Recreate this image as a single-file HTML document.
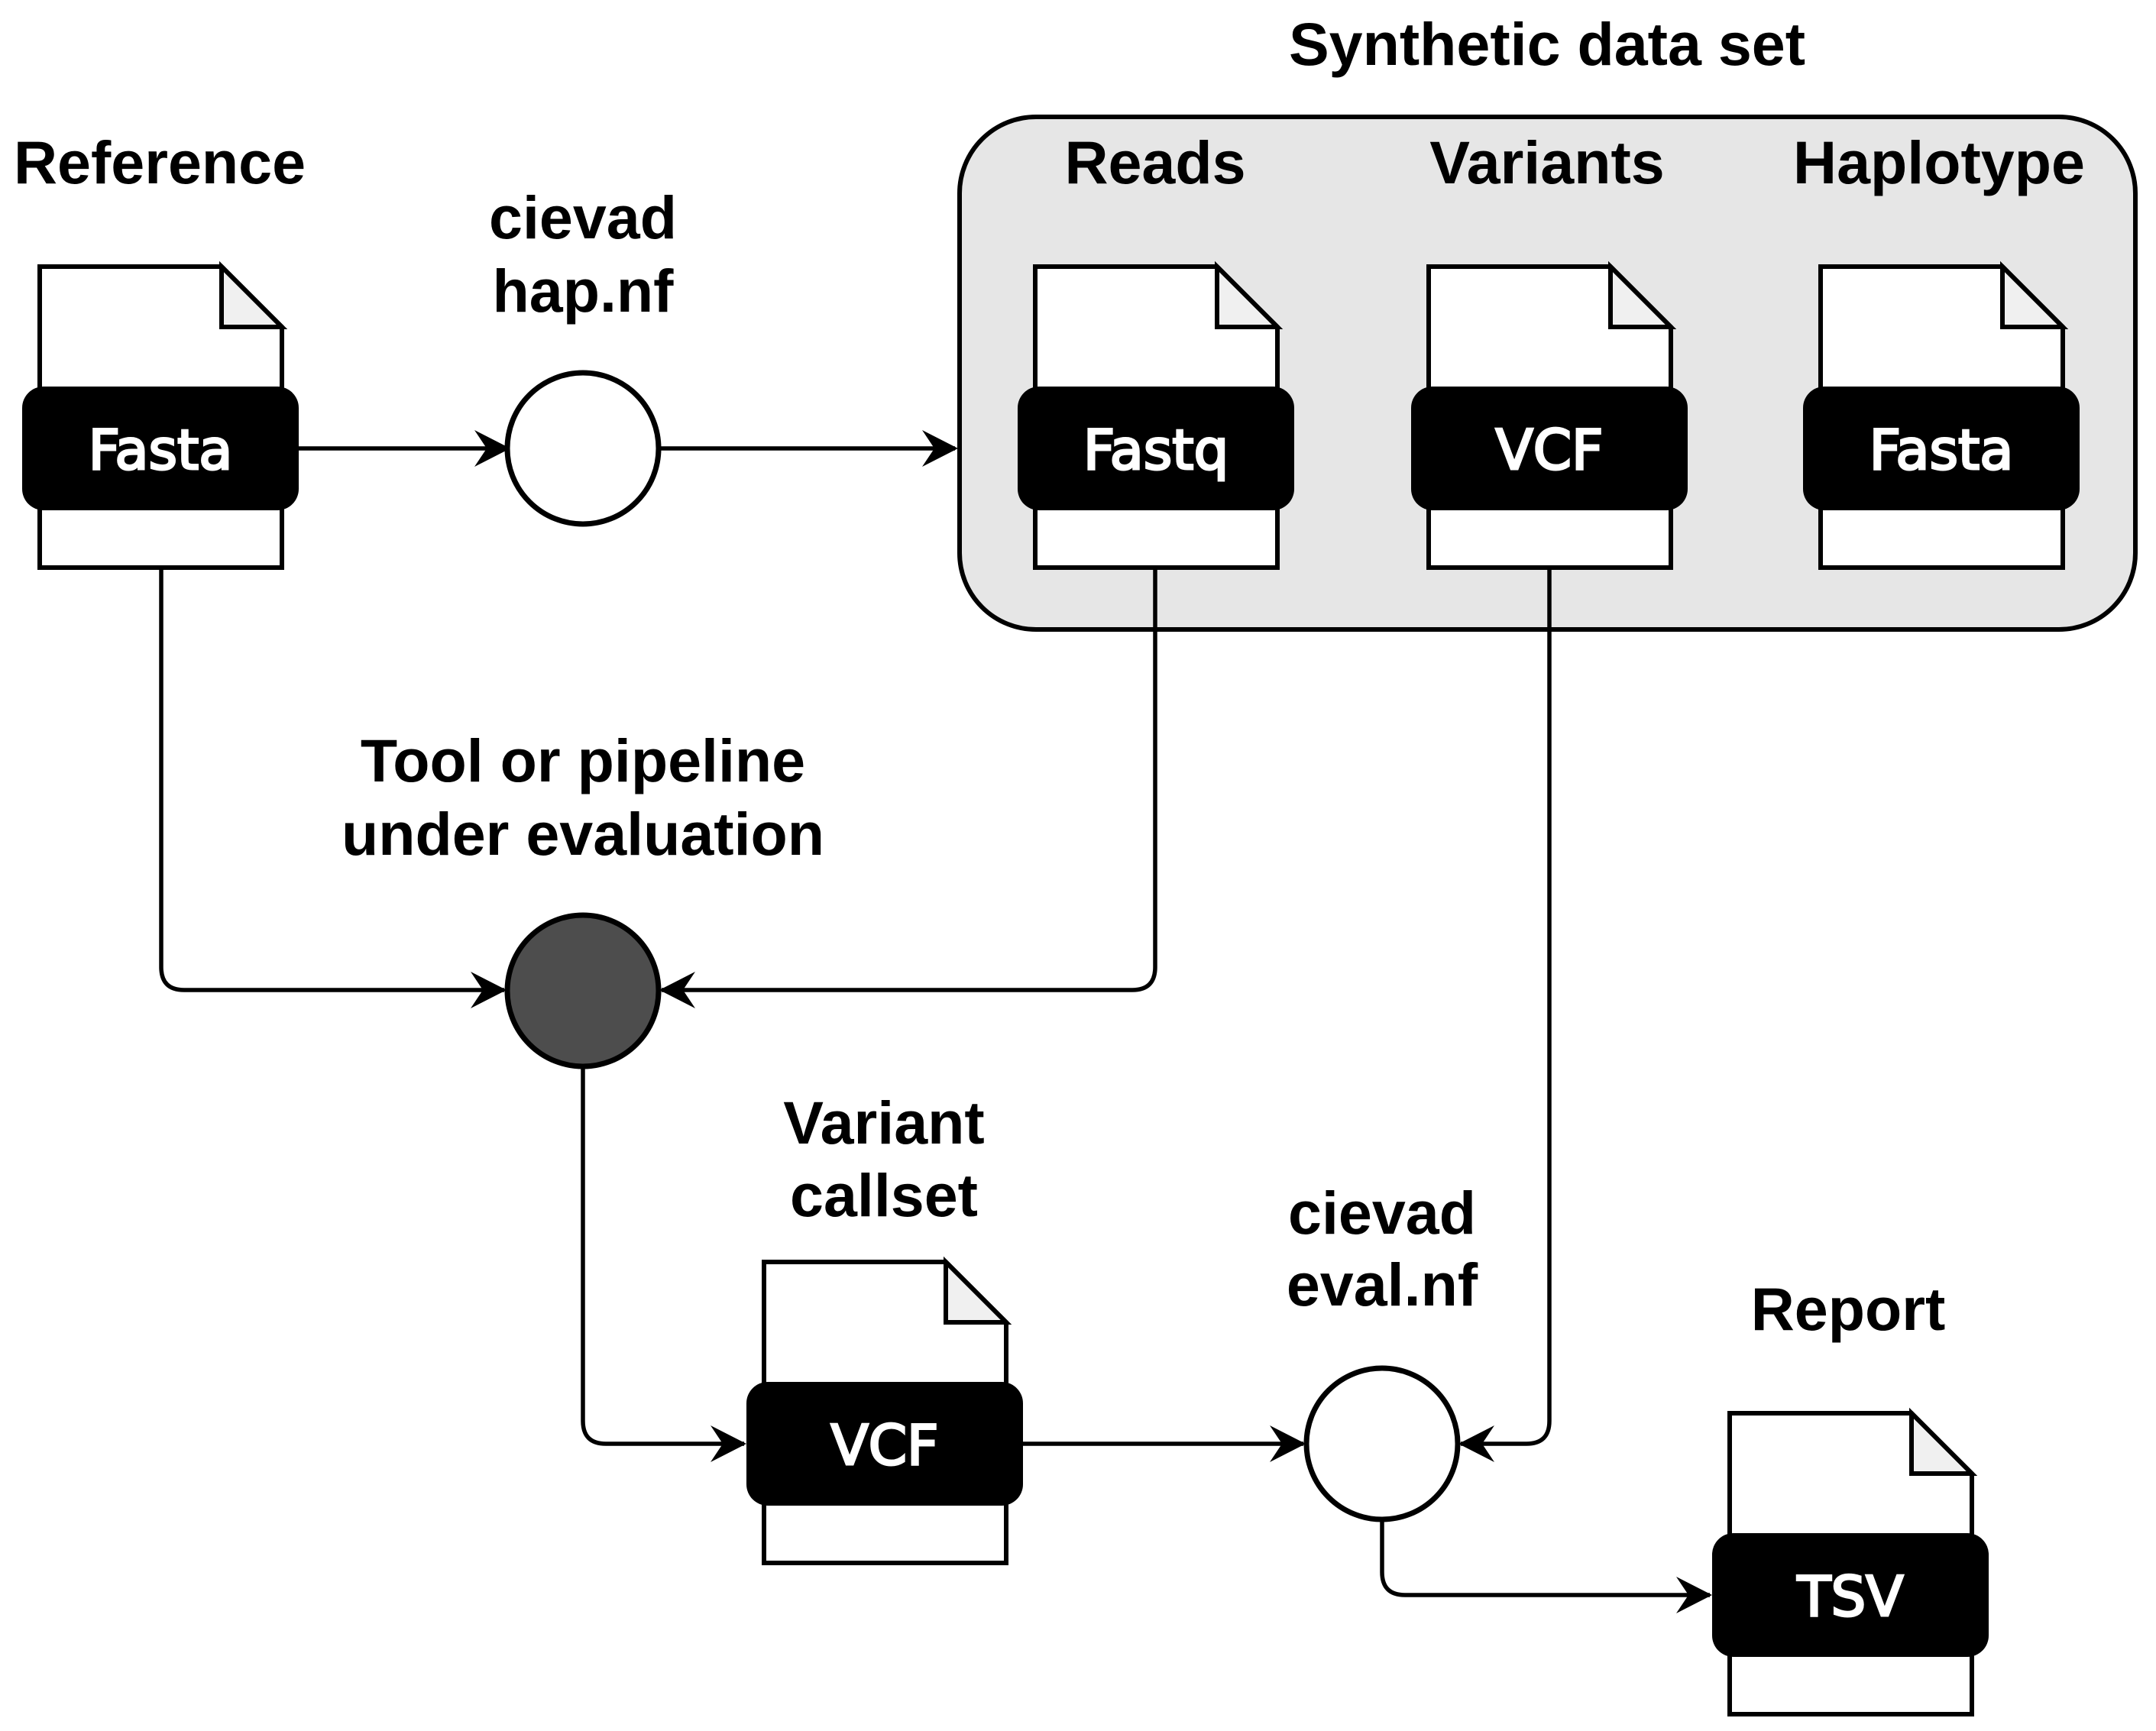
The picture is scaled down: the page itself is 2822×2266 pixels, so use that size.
<!DOCTYPE html>
<html><head><meta charset="utf-8"><style>
html,body{margin:0;padding:0;background:#fff;}
svg{display:block;}
.t{font-family:"Liberation Sans",Arial,sans-serif;font-weight:bold;font-size:79px;fill:#000;text-anchor:middle;}
.l{font-family:"DejaVu Sans",sans-serif;font-size:72px;fill:#fff;stroke:#fff;stroke-width:3;text-anchor:middle;}
.c{fill:none;stroke:#000;stroke-width:5.5;}
</style></head><body>
<svg width="2822" height="2266" viewBox="0 0 2822 2266" xmlns="http://www.w3.org/2000/svg">
<defs>
<g id="file">
<path d="M0 0 H238 L317 79 V394 H0 Z" fill="#fff" stroke="#000" stroke-width="6"/>
<path d="M238 0 V79 H317 Z" fill="#f0f0f0" stroke="#000" stroke-width="6" stroke-linejoin="miter"/>
<rect x="-23" y="157" width="362" height="162" rx="28" fill="#000"/>
</g>
<path id="ah" d="M0 0 L-47 -24 L-31 0 L-47 24 Z" fill="#000"/>
</defs>

<rect x="1256" y="153" width="1539" height="671" rx="100" fill="#e6e6e6" stroke="#000" stroke-width="6"/>

<path class="c" d="M391 587 H665"/>
<use href="#ah" x="668" y="587"/>
<path class="c" d="M862 587 H1250"/>
<use href="#ah" x="1254" y="587"/>
<path class="c" d="M211 743 V1266 Q211 1296 241 1296 H660"/>
<use href="#ah" x="663" y="1296"/>
<path class="c" d="M1512 743 V1266 Q1512 1296 1482 1296 H866"/>
<use href="#ah" x="863" y="1296" transform="rotate(180 863 1296)"/>
<path class="c" d="M763 1398 V1860 Q763 1890 793 1890 H974"/>
<use href="#ah" x="977" y="1890"/>
<path class="c" d="M1339 1890 H1706"/>
<use href="#ah" x="1709" y="1890"/>
<path class="c" d="M2028 743 V1860 Q2028 1890 1998 1890 H1912"/>
<use href="#ah" x="1909" y="1890" transform="rotate(180 1909 1890)"/>
<path class="c" d="M1809 1990 V2058 Q1809 2088 1839 2088 H2238"/>
<use href="#ah" x="2241" y="2088"/>

<circle cx="763" cy="587" r="99" fill="#fff" stroke="#000" stroke-width="7"/>
<circle cx="763" cy="1297" r="99" fill="#4d4d4d" stroke="#000" stroke-width="7"/>
<circle cx="1809" cy="1890" r="99" fill="#fff" stroke="#000" stroke-width="7"/>

<use href="#file" x="52" y="349"/>
<use href="#file" x="1355" y="349"/>
<use href="#file" x="1870" y="349"/>
<use href="#file" x="2383" y="349"/>
<use href="#file" x="1000" y="1652"/>
<use href="#file" x="2264" y="1850"/>

<text class="l" x="210" y="614">Fasta</text>
<text class="l" x="1513" y="614">Fastq</text>
<text class="l" x="2028" y="614">VCF</text>
<text class="l" x="2541" y="614">Fasta</text>
<text class="l" x="1158" y="1917">VCF</text>
<text class="l" x="2422" y="2115">TSV</text>

<text class="t" x="2025" y="85">Synthetic data set</text>
<text class="t" x="209" y="240">Reference</text>
<text class="t" x="1512" y="240">Reads</text>
<text class="t" x="2025" y="240">Variants</text>
<text class="t" x="2538" y="240">Haplotype</text>
<text class="t" x="763" y="312">cievad</text>
<text class="t" x="763" y="408">hap.nf</text>
<text class="t" x="763" y="1023">Tool or pipeline</text>
<text class="t" x="763" y="1119">under evaluation</text>
<text class="t" x="1157" y="1497">Variant</text>
<text class="t" x="1157" y="1592">callset</text>
<text class="t" x="1809" y="1615">cievad</text>
<text class="t" x="1809" y="1709">eval.nf</text>
<text class="t" x="2419" y="1741">Report</text>
</svg>
</body></html>
